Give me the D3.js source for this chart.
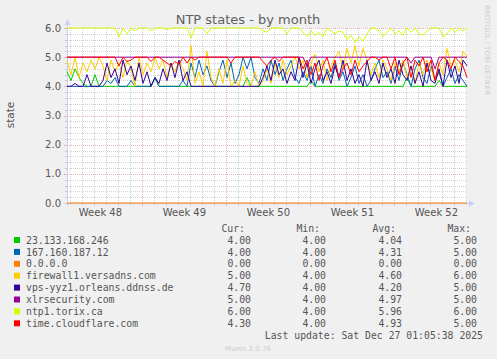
<!DOCTYPE html>
<html><head><meta charset="utf-8">
<script src="https://cdn.jsdelivr.net/npm/d3@7"></script>
<style>body{margin:0;background:#f0f0f0}svg{display:block}</style>
</head><body><svg id="c" width="497" height="359"></svg>
<script>
// ---------------- data ----------------
const title = "NTP states - by month";
const yLabel = "state";
const lastUpdate = "Last update: Sat Dec 27 01:05:38 2025";
const footer = "Munin 2.0.76";
const yTicks = [0, 1, 2, 3, 4, 5, 6];
const weekStarts = ["2025-11-23", "2025-11-30", "2025-12-07", "2025-12-14", "2025-12-21"];
const weekLabels = ["Week 48", "Week 49", "Week 50", "Week 51", "Week 52"];
const seriesNames = ["23.133.168.246", "167.160.187.12", "0.0.0.0", "firewall1.versadns.com",
  "vps-yyz1.orleans.ddnss.de", "xlrsecurity.com", "ntp1.torix.ca", "time.cloudflare.com"];
const seriesColors = ["#00cc00", "#0066b3", "#ff8000", "#ffcc00", "#330099", "#990099", "#ccff00", "#ff0000"];
const legendCur = ["4.00", "4.00", "0.00", "5.00", "4.70", "5.00", "6.00", "4.30"];
const legendMin = ["4.00", "4.00", "0.00", "4.00", "4.00", "4.00", "4.00", "4.00"];
const legendAvg = ["4.04", "4.31", "0.00", "4.60", "4.20", "4.97", "5.96", "4.93"];
const legendMax = ["5.00", "5.00", "0.00", "6.00", "5.00", "5.00", "6.00", "5.00"];

// 101 samples, one every 8 hours, ending at the last update
const green = [4.5,4.2,4.6,4.3,4.1,4,4,4.4,4,4,
  4,4,4,4,4,4,4,4,4,4,
  4,4,4.3,4,4,4,4,4,4,4,
  4,4,4,4,4,4,4,4,4,4,
  4,4,4,4,4,4.3,4,4,4,4,
  4,4,4,4,4,4,4,4,4,4,
  4,4.2,4,4,4,4,4,4,4,4,
  4,4,4,4,4,4,4,4,4,4,
  4,4,4,4,4,4.3,4,4,4,4,
  4,4,4,4.2,4,4,4,4,4,4,
  4];
const blue = [4,4,4,4,4,4,4,4,4,4,
  4.2,4.1,4.3,4,4,4,4.2,4,4,4,
  4,4,4.3,4,4,4,4,4,4,4.2,
  4,4.8,4.3,4.9,4.4,4.7,4.2,4,4.5,4.9,
  4.3,4.8,4.1,4.4,5,4.6,5,4.3,4.1,4.6,
  4.2,4.9,4.4,4.8,4.2,4.6,4.9,4.3,4.1,4.5,
  4.2,4.7,4,4.4,4.1,4.6,4.3,4.8,4.2,4.5,
  4,4.3,4.7,4.1,4.4,4,4.2,4.6,4.9,4.3,
  4.5,4.1,4.7,4.2,4.8,4.4,4,4.6,4.9,4.3,
  4.1,4.7,4.2,4.5,4,4.3,4.6,4.1,4.4,4.2,
  4];
const orange = [0,0,0,0,0,0,0,0,0,0,
  0,0,0,0,0,0,0,0,0,0,
  0,0,0,0,0,0,0,0,0,0,
  0,0,0,0,0,0,0,0,0,0,
  0,0,0,0,0,0,0,0,0,0,
  0,0,0,0,0,0,0,0,0,0,
  0,0,0,0,0,0,0,0,0,0,
  0,0,0,0,0,0,0,0,0,0,
  0,0,0,0,0,0,0,0,0,0,
  0,0,0,0,0,0,0,0,0,0,
  0];
const yellow = [4.9,4.4,5,4.3,4.8,4.5,4.9,4.6,5,4.7,
  4.2,4.9,4.5,4.8,4.3,4.9,4.6,4,5,4.4,
  4.8,4.5,5,4.6,4.9,4.3,4.8,4.5,4.9,4.6,
  4.2,5.4,4.1,4.5,4,5.2,4.3,4,4.6,4.1,
  4.9,4,4.2,4,4.7,4.1,4,4.5,4,4.2,
  4.6,4.1,4.8,4.3,4.9,4.4,4.7,5,4.6,4.9,
  4.3,4.8,5.1,4.5,4.9,4.2,4.7,5,5.2,4.6,
  5.3,4.8,5.4,4.7,5.3,4.9,4.4,4.8,4.3,4.9,
  4.6,4.2,4.8,4.5,4.9,4.3,4.7,4.1,4.8,4.4,
  4.9,4.6,4.2,4.8,4.4,5.3,4.7,4.9,4.5,5.2,
  5];
const indigo = [4,4,4.1,4,4,4.4,4,4,4,4.2,
  4.8,4.3,4.6,4.1,4.9,4.4,4.7,4.2,4.8,4.1,
  4.5,4,4.3,4.1,4.6,4.2,4.8,4.3,4.9,4.2,
  4.5,4,4,4,4,4,4,4,4,4,
  4,4,4,4,4,4,4,4,4,4.3,
  4.7,4.2,4.9,4.4,4.6,4.1,4.5,4.2,5,4.3,
  4.8,4.1,4.6,4.9,4.2,4.5,4.1,4.7,4.3,4.9,
  4.2,4.6,4.1,4.4,4,4.9,4.2,4.5,4.1,4.8,
  4.3,4.6,4.1,4.9,4.4,4.2,4.7,4.1,4.5,4,
  4.8,4.2,4.1,4.6,4,4.9,4.3,4.7,4.1,4.9,
  4.7];
const purple = [5,5,5,5,5,5,5,5,5,5,
  5,5,5,5,5,5,5,5,5,5,
  5,5,5,5,5,5,5,5,5,5,
  5,5,5,5,5,5,5,5,5,5,
  5,5,5,5,5,5,5,5,5,5,
  5,5,5,5,5,5,5,5,5,5,
  4.7,5,5,5,5,5,5,5,5,5,
  5,5,5,5,5,5,5,5,5,5,
  5,5,5,5,5,5,4.8,5,5,5,
  5,5,4.6,5,5,5,5,5,5,5,
  5];
const lime = [6,6,6,6,6,6,6,6,6,6,
  6,6,6,5.7,6,5.8,6,5.9,6,6,
  6,5.9,6,6,6,5.95,6,6,6,6,
  6,5.65,6,6,6,5.8,6,6,6,6,
  6,6,6,6,6,6,6,6,6,5.9,
  5.85,6,6,6,6,5.8,6,6,6,5.85,
  5.7,5.9,5.75,5.85,5.7,6,5.9,5.8,5.9,5.85,
  5.6,5.75,5.5,5.7,5.55,5.8,6,6,5.9,5.7,
  5.85,6,5.8,5.9,5.75,6,5.85,6,5.8,5.75,
  5.9,6,6,6,5.7,5.8,6,5.85,6,5.9,
  6];
const red = [5,5,5,5,5,5,5,5,5,5,
  5,5,5,4.7,5,4.85,4.9,5,5,5,
  5,4.85,5,5,4.9,4.8,4.7,4.85,4.75,5,
  4.8,5,4.9,5,5,5,5,5,5,5,
  5,4.8,5,5,5,5,5,5,5,4.85,
  4.7,4.9,5,4.85,5,5,5,5,5,4.6,
  4.9,4.4,4.8,4.2,4.7,5,4.5,4.9,4.3,4.6,
  4.8,4.4,4.9,4.5,4.7,4.85,5,5,4.9,5,
  5,4.6,5,4.4,4.8,5,4.3,4.9,4.7,5,
  4.5,4.9,4.2,4.8,5,4.9,4.6,5,4.85,4.7,
  4.3];
const seriesValues = [green, blue, orange, yellow, indigo, purple, lime, red];

// ---------------- chart ----------------
const W = 497, H = 359;
const svg = d3.select("#c");
svg.append("rect").attr("width", W).attr("height", H).attr("fill", "#f0f0f0");

const endT = Date.UTC(2025, 11, 27, 1, 5, 38);
const spanMs = 400 * 7200 * 1000;
const startT = endT - spanMs;
const x = d3.scaleUtc().domain([new Date(startT), new Date(endT)]).range([67, 467]);
const y = d3.scaleLinear().domain([0, 6]).range([203, 28]);
const px = v => Math.round(v) + 0.5;

const X0 = 67, X1 = 467, Y0 = 203, Y1 = 28;
svg.append("rect").attr("x", X0).attr("y", Y1).attr("width", X1 - X0).attr("height", Y0 - Y1).attr("fill", "#ffffff");

const minorCol = "#d2d2d2", majorCol = "#ebb4b4";
const grid = svg.append("g");
const minorY = d3.range(0, 30).map(k => k / 5).filter(v => Math.abs(v - Math.round(v)) > 1e-6 && v > 0);
minorY.forEach(v => {
  grid.append("line").attr("x1", X0).attr("x2", X1).attr("y1", px(y(v))).attr("y2", px(y(v)))
    .attr("stroke", minorCol).attr("stroke-dasharray", "1,1");
});
const days = d3.utcDay.range(new Date(startT), new Date(endT));
const weekDates = weekStarts.map(s => new Date(s + "T00:00:00Z"));
days.forEach(d => {
  if (d.getUTCDay() === 0) return;
  grid.append("line").attr("x1", px(x(d))).attr("x2", px(x(d))).attr("y1", Y1).attr("y2", Y0)
    .attr("stroke", minorCol).attr("stroke-dasharray", "1,1");
});
yTicks.forEach(v => {
  if (v === 0) return;
  grid.append("line").attr("x1", X0).attr("x2", X1).attr("y1", px(y(v))).attr("y2", px(y(v)))
    .attr("stroke", majorCol).attr("stroke-dasharray", "1,1");
});
weekDates.forEach(d => {
  if (+d <= startT) return;
  grid.append("line").attr("x1", px(x(d))).attr("x2", px(x(d))).attr("y1", Y1).attr("y2", Y0)
    .attr("stroke", majorCol).attr("stroke-dasharray", "1,1");
});
days.forEach(d => {
  const isWeek = d.getUTCDay() === 0;
  svg.append("line").attr("x1", px(x(d))).attr("x2", px(x(d))).attr("y1", Y0).attr("y2", Y0 + (isWeek ? 3 : 2))
    .attr("stroke", isWeek ? majorCol : "#c4c4c4");
});
minorY.forEach(v => {
  svg.append("line").attr("x1", X0 - 2).attr("x2", X0).attr("y1", px(y(v))).attr("y2", px(y(v))).attr("stroke", "#c4c4c4");
});
yTicks.forEach(v => {
  svg.append("line").attr("x1", X0 - 3).attr("x2", X0).attr("y1", px(y(v))).attr("y2", px(y(v))).attr("stroke", majorCol);
});

const axisCol = "#c9d0f4";
svg.append("line").attr("x1", X0 + 0.5).attr("x2", X0 + 0.5).attr("y1", Y0 + 3).attr("y2", Y1 - 5).attr("stroke", axisCol);
svg.append("line").attr("x1", X0 - 4).attr("x2", X1 + 4).attr("y1", Y0 + 0.5).attr("y2", Y0 + 0.5).attr("stroke", axisCol);
svg.append("path").attr("d", `M${X0 - 2.5},${Y1 - 3} L${X0 + 0.5},${Y1 - 9} L${X0 + 3.5},${Y1 - 3} Z`).attr("fill", axisCol);
svg.append("path").attr("d", `M${X1 + 2},${Y0 - 2.5} L${X1 + 8},${Y0 + 0.5} L${X1 + 2},${Y0 + 3.5} Z`).attr("fill", axisCol);

const stepMs = spanMs / 100;
const line = d3.line().x((d, i) => x(new Date(startT + i * stepMs))).y(d => y(d));
const lines = svg.append("g");
seriesValues.forEach((vals, k) => {
  lines.append("path").datum(vals).attr("d", line).attr("fill", "none")
    .attr("stroke", seriesColors[k]).attr("stroke-width", 1).attr("stroke-linejoin", "round");
});

const sans = "DejaVu Sans, sans-serif";
const mono = "DejaVu Sans Mono, monospace";
svg.append("text").attr("x", 248).attr("y", 24).attr("text-anchor", "middle")
  .attr("font-family", sans).attr("font-size", 13).attr("fill", "#606060").text(title);
svg.append("text").attr("transform", "translate(14,115) rotate(-90)").attr("text-anchor", "middle")
  .attr("font-family", sans).attr("font-size", 10.5).attr("fill", "#555").text(yLabel);
svg.append("text").attr("transform", "translate(485,5) rotate(90)").attr("text-anchor", "start")
  .attr("font-family", sans).attr("font-size", 7).attr("fill", "#cccccc").text("RRDTOOL / TOBI OETIKER");
yTicks.forEach(v => {
  svg.append("text").attr("x", 61).attr("y", y(v) + 3.6).attr("text-anchor", "end")
    .attr("font-family", sans).attr("font-size", 10).attr("fill", "#555").text(v.toFixed(1));
});
weekDates.forEach((d, k) => {
  const mid = new Date(+d + 3.5 * 86400000);
  svg.append("text").attr("x", x(mid)).attr("y", 215.5).attr("text-anchor", "middle")
    .attr("font-family", sans).attr("font-size", 10).attr("fill", "#555").text(weekLabels[k]);
});

const colsX = [251, 326, 402, 477];
const heads = ["Cur:", "Min:", "Avg:", "Max:"];
heads.forEach((h, k) => {
  svg.append("text").attr("x", colsX[k] - 6).attr("y", 231.6).attr("text-anchor", "end")
    .attr("font-family", mono).attr("font-size", 9.8).attr("fill", "#555").text(h);
});
const cols = [legendCur, legendMin, legendAvg, legendMax];
seriesNames.forEach((name, k) => {
  const cy = 240 + k * 11.9;
  svg.append("rect").attr("x", 14).attr("y", cy - 3).attr("width", 6).attr("height", 6).attr("fill", seriesColors[k]);
  svg.append("text").attr("x", 26).attr("y", cy + 3.6).attr("font-family", mono).attr("font-size", 9.8)
    .attr("fill", "#555").text(name);
  cols.forEach((c, j) => {
    svg.append("text").attr("x", colsX[j]).attr("y", cy + 3.6).attr("text-anchor", "end")
      .attr("font-family", mono).attr("font-size", 9.8).attr("fill", "#555").text(c[k]);
  });
});
svg.append("text").attr("x", 483).attr("y", 339).attr("text-anchor", "end")
  .attr("font-family", mono).attr("font-size", 9.8).attr("fill", "#555").text(lastUpdate);
svg.append("text").attr("x", 248).attr("y", 351).attr("text-anchor", "middle")
  .attr("font-family", sans).attr("font-size", 7).attr("fill", "#cccccc").text(footer);
</script></body></html>
